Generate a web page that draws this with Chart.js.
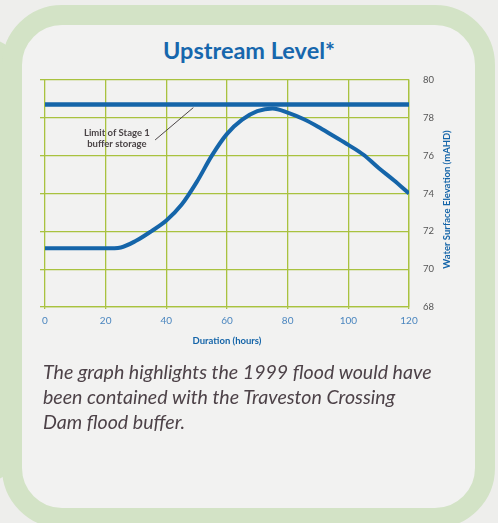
<!DOCTYPE html>
<html>
<head>
<meta charset="utf-8">
<script src="https://cdn.jsdelivr.net/npm/chart.js@4.4.0/dist/chart.umd.min.js"></script>
<style>
  html, body { margin: 0; padding: 0; }
  body { width: 498px; height: 523px; background: #eeeeec; position: relative; overflow: hidden; font-family: Lato, sans-serif; }
  .side { position: absolute; left: -30px; top: 40px; width: 44px; height: 440px; background: #d3e3c6; border-radius: 22px; }
  .card { position: absolute; left: 2px; top: 5px; width: 453px; height: 483px; border: 20px solid #d3e3c6; border-radius: 60px; background: #f2f2f1; }
  .title { position: absolute; left: 0; top: 38px; width: 498px; text-align: center; font-weight: 700; font-size: 23.5px; line-height: 24px; color: #1767ad; }
  .caption { position: absolute; left: 43px; top: 359px; width: 440px; font-style: italic; font-size: 19.6px; line-height: 25px; color: #4d4248; white-space: nowrap; }
  #chart { position: absolute; left: 0; top: 0; }
</style>
</head>
<body>
<div class="side"></div>
<div class="card"></div>
<div class="title">Upstream Level*</div>
<canvas id="chart" width="498" height="360"></canvas>
<div class="caption">The graph highlights the 1999 flood would have<br>been contained with the Traveston Crossing<br>Dam flood buffer.</div>
<script>
// Duration (hours) and upstream level (mAHD)
const hours = [0, 5, 10, 15, 20, 25, 30, 35, 40, 45, 50, 55, 60, 65, 70, 75, 80, 85, 90, 95, 100, 105, 110, 115, 120];
const level = [71.1, 71.1, 71.1, 71.1, 71.1, 71.15, 71.5, 72.0, 72.57, 73.4, 74.6, 76.0, 77.15, 77.9, 78.35, 78.5, 78.28, 77.95, 77.53, 77.05, 76.57, 76.05, 75.35, 74.7, 74.0];
const limitHours = [0, 120];
const limitLevel = [78.7, 78.7];
const xTicks = [0, 20, 40, 60, 80, 100, 120];
const yTicks = [68, 70, 72, 74, 76, 78, 80];

const gridColor = '#a9c23f';
const blue = '#1565a9';

// leader label for the stage 1 limit line (in data units)
const annotation = {
    lines: ['Limit of Stage 1', 'buffer storage'],
    textAt: { x: 23.7, y: 77.2 },
    from: { x: 36.3, y: 76.83 },
    to: { x: 48.9, y: 78.54 }
};

const extras = {
    id: 'extras',
    afterDatasetsDraw(chart) {
        const { ctx, scales: { x, y }, chartArea } = chart;
        ctx.save();
        ctx.strokeStyle = '#4a4446';
        ctx.lineWidth = 1;
        ctx.beginPath();
        ctx.moveTo(x.getPixelForValue(annotation.from.x), y.getPixelForValue(annotation.from.y));
        ctx.lineTo(x.getPixelForValue(annotation.to.x), y.getPixelForValue(annotation.to.y));
        ctx.stroke();

        ctx.fillStyle = '#4a4446';
        ctx.font = 'bold 9.5px Lato';
        ctx.textAlign = 'center';
        ctx.textBaseline = 'middle';
        const tx = x.getPixelForValue(annotation.textAt.x);
        const ty = y.getPixelForValue(annotation.textAt.y);
        annotation.lines.forEach((line, i) => ctx.fillText(line, tx, ty + i * 10.5));

        // right axis title, reading bottom to top
        ctx.translate(chartArea.right + 38, (chartArea.top + chartArea.bottom) / 2 + 6);
        ctx.rotate(-Math.PI / 2);
        ctx.fillStyle = blue;
        ctx.font = 'bold 9.5px Lato';
        ctx.fillText('Water Surface Elevation (mAHD)', 0, 0);
        ctx.restore();
    }
};

new Chart(document.getElementById('chart'), {
    type: 'line',
    data: {
        datasets: [
            {
                label: 'Limit of Stage 1 buffer storage',
                data: limitHours.map((h, i) => ({ x: h, y: limitLevel[i] })),
                borderColor: blue,
                borderWidth: 4.5,
                pointRadius: 0,
                yAxisID: 'y'
            },
            {
                label: 'Upstream level',
                data: hours.map((h, i) => ({ x: h, y: level[i] })),
                borderColor: blue,
                borderWidth: 4,
                pointRadius: 0,
                cubicInterpolationMode: 'monotone',
                yAxisID: 'y'
            }
        ]
    },
    options: {
        responsive: false,
        animation: false,
        layout: {
            padding: { left: 40, top: 80, right: 29, bottom: 0 }
        },
        plugins: {
            legend: { display: false },
            tooltip: { enabled: false }
        },
        scales: {
            x: {
                type: 'linear',
                min: 0,
                max: 120,
                afterBuildTicks: scale => { scale.ticks = xTicks.map(v => ({ value: v })); },
                afterFit: scale => { scale.height = 53; },
                grid: { color: gridColor, lineWidth: 1.3, tickLength: 2 },
                border: { color: gridColor, width: 1.3 },
                ticks: {
                    color: '#4b86bf',
                    padding: 6,
                    font: { family: 'Lato', size: 10 }
                },
                title: {
                    display: true,
                    text: 'Duration (hours)',
                    color: blue,
                    font: { family: 'Lato', size: 9.5, weight: 'bold' },
                    padding: { top: 4, bottom: 13 }
                }
            },
            y: {
                position: 'right',
                min: 68,
                max: 80,
                afterBuildTicks: scale => { scale.ticks = yTicks.map(v => ({ value: v })); },
                afterFit: scale => { scale.width = 60; },
                grid: { color: gridColor, lineWidth: 1.3, drawTicks: false },
                border: { color: gridColor, width: 1.3 },
                ticks: {
                    color: '#555',
                    padding: 14,
                    font: { family: 'Lato', size: 9.5 }
                }
            },
            yl: {
                position: 'left',
                min: 68,
                max: 80,
                afterBuildTicks: scale => { scale.ticks = yTicks.map(v => ({ value: v })); },
                afterFit: scale => { scale.width = 5; },
                grid: { color: gridColor, lineWidth: 1.3, drawOnChartArea: false, tickLength: 5 },
                border: { display: false },
                ticks: { display: false }
            }
        }
    },
    plugins: [extras]
});
</script>
</body>
</html>
